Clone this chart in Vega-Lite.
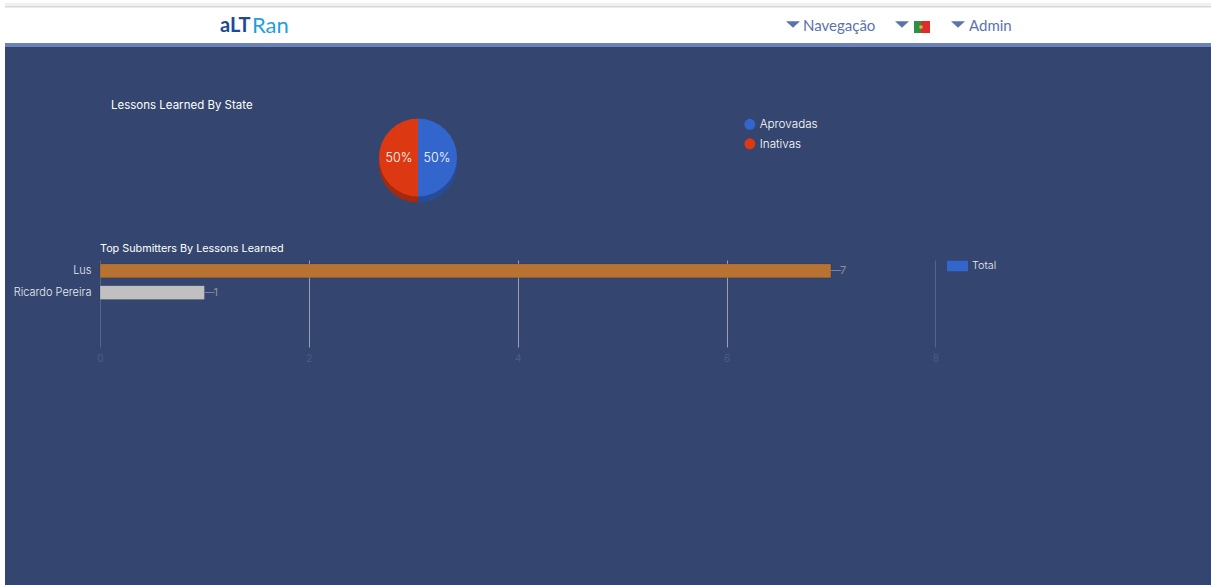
{
"$schema":"https://vega.github.io/schema/vega-lite/v6.json",
"background":"#34466f",
"padding":0,
"spacing":0,
"bounds":"flush",
"resolve":{"scale":{"color":"independent","theta":"independent"}},
"config":{"view":{"stroke":null},"font":"Inter","concat":{"spacing":0}},
"hconcat":[
{"width":5,"height":585,"view":{"fill":"#ffffff","stroke":null},"data":{"values":[{}]},"mark":{"type":"rect","fill":"#ffffff"},"encoding":{}},
{"spacing":0,"bounds":"flush","resolve":{"scale":{"color":"independent","theta":"independent"}},"vconcat":[
{"width":1206,"height":47,"view":{"fill":"#ffffff","stroke":null},"data":{"values":[{}]},
"layer":[
{"mark":{"type":"rect","fill":"#f0f0f0"},"encoding":{"x":{"datum":5,"type":"quantitative","scale":{"domain":[5,1211],"nice":false,"zero":false},"axis":null},"x2":{"datum":1211},"y":{"datum":3,"type":"quantitative","scale":{"domain":[47,0],"nice":false,"zero":false},"axis":null},"y2":{"datum":6}}},
{"mark":{"type":"rect","fill":"#d8d8d8"},"encoding":{"x":{"datum":5,"type":"quantitative"},"x2":{"datum":1211},"y":{"datum":6,"type":"quantitative"},"y2":{"datum":7.5}}},
{"mark":{"type":"rect","fill":"#6b82b8"},"encoding":{"x":{"datum":5,"type":"quantitative"},"x2":{"datum":1211},"y":{"datum":43,"type":"quantitative"},"y2":{"datum":47}}},
{"mark":{"type":"text","text":"aLT","align":"left","font":"Lato","fontWeight":"bold","fontSize":20,"fill":"#1c4a96"},"encoding":{"x":{"datum":220,"type":"quantitative"},"y":{"datum":26,"type":"quantitative"}}},
{"mark":{"type":"text","text":"Ran","align":"left","font":"Lato","fontSize":22,"fill":"#1f9fdc"},"encoding":{"x":{"datum":252,"type":"quantitative"},"y":{"datum":26,"type":"quantitative"}}},
{"mark":{"type":"point","shape":"M-1,-0.45L1,-0.45L0,0.45Z","filled":true,"fill":"#5b73ab","size":196,"opacity":1},"encoding":{"x":{"datum":793,"type":"quantitative"},"y":{"datum":24.5,"type":"quantitative"}}},
{"mark":{"type":"point","shape":"M-1,-0.45L1,-0.45L0,0.45Z","filled":true,"fill":"#5b73ab","size":196,"opacity":1},"encoding":{"x":{"datum":902,"type":"quantitative"},"y":{"datum":24.5,"type":"quantitative"}}},
{"mark":{"type":"point","shape":"M-1,-0.45L1,-0.45L0,0.45Z","filled":true,"fill":"#5b73ab","size":196,"opacity":1},"encoding":{"x":{"datum":958,"type":"quantitative"},"y":{"datum":24.5,"type":"quantitative"}}},
{"mark":{"type":"text","text":"Navegação","align":"left","font":"Lato","fontSize":15,"fill":"#5b73ab"},"encoding":{"x":{"datum":803,"type":"quantitative"},"y":{"datum":26,"type":"quantitative"}}},
{"mark":{"type":"text","text":"Admin","align":"left","font":"Lato","fontSize":15,"fill":"#5b73ab"},"encoding":{"x":{"datum":969,"type":"quantitative"},"y":{"datum":26,"type":"quantitative"}}},
{"mark":{"type":"rect","fill":"#2f8f45"},"encoding":{"x":{"datum":914,"type":"quantitative"},"x2":{"datum":921},"y":{"datum":21,"type":"quantitative"},"y2":{"datum":33}}},
{"mark":{"type":"rect","fill":"#e02b2b"},"encoding":{"x":{"datum":921,"type":"quantitative"},"x2":{"datum":930},"y":{"datum":21,"type":"quantitative"},"y2":{"datum":33}}},
{"mark":{"type":"point","filled":true,"fill":"#d8b03a","size":14,"opacity":1},"encoding":{"x":{"datum":921,"type":"quantitative"},"y":{"datum":27,"type":"quantitative"}}}
]},
{"width":1206,"height":213,
"title":{"text":"Lessons Learned By State","anchor":"start","frame":"group","dx":106,"offset":-64,"color":"#ffffff","font":"Inter","fontSize":11.5,"fontWeight":400},
"data":{"values":[{"state":"Aprovadas","share":50,"label":"50%"},{"state":"Inativas","share":50,"label":"50%"}]},
"encoding":{"x":{"datum":418,"type":"quantitative","scale":{"domain":[5,1211],"nice":false,"zero":false},"axis":null},"theta":{"field":"share","type":"quantitative","stack":true}},
"layer":[
{"mark":{"type":"arc","radius":39},"encoding":{"y":{"datum":163.5,"type":"quantitative","scale":{"domain":[260,47],"nice":false,"zero":false},"axis":null},"color":{"field":"state","type":"nominal","title":null,"scale":{"domain":["Aprovadas","Inativas"],"range":["#3366cc","#dc3912"]},"legend":{"orient":"none","legendX":739,"legendY":71.5,"symbolType":"circle","symbolSize":120,"labelColor":"#ffffff","labelFont":"Inter","labelFontSize":11.7,"labelFontWeight":300,"rowPadding":6.5,"symbolStrokeWidth":0}}}},
{"mark":{"type":"arc","radius":39,"fill":"#000000","opacity":0.25},"encoding":{"y":{"datum":163.5,"type":"quantitative"}}},
{"mark":{"type":"arc","radius":39},"encoding":{"y":{"datum":157.5,"type":"quantitative"},"color":{"field":"state","type":"nominal"}}},
{"mark":{"type":"text","radius":19,"color":"#ffffff","font":"Inter","fontSize":12.5,"fontWeight":300},"encoding":{"y":{"datum":157.5,"type":"quantitative"},"text":{"field":"label"}}}
]},
{"width":1206,"height":87,
"title":{"text":"Top Submitters By Lessons Learned","anchor":"start","frame":"group","dx":95,"offset":2,"color":"#ffffff","font":"Inter","fontSize":10.8,"fontWeight":400},
"data":{"values":[{"name":"Lus","total":7},{"name":"Ricardo Pereira","total":1}]},
"encoding":{
"x":{"field":"total","type":"quantitative","title":null,"scale":{"domain":[-0.91,10.64],"nice":false,"zero":false},"axis":{"values":[0,2,4,6,8],"format":"d","domain":false,"ticks":false,"labelPadding":6,"labelColor":"#4d5d82","labelFont":"Inter","labelFontSize":10,"grid":true,"gridWidth":1,"gridColor":{"condition":{"test":"datum.value==0||datum.value==8","value":"#55658a"},"value":"#98a0b2"}}},
"y":{"field":"name","type":"nominal","title":null,"scale":{"domain":["Lus","Ricardo Pereira","·","··"],"paddingInner":0.36,"paddingOuter":0.18},"axis":{"orient":"left","offset":-95,"values":["Lus","Ricardo Pereira"],"domain":false,"ticks":false,"grid":false,"labelPadding":9,"labelColor":"#e8ebf2","labelFont":"Inter","labelFontSize":11,"labelFontWeight":300}}},
"layer":[
{"mark":{"type":"bar","stroke":"#000000","strokeOpacity":0.12,"strokeWidth":1},"encoding":{"color":{"field":"name","type":"nominal","title":null,"scale":{"domain":["Lus","Ricardo Pereira","Total"],"range":["#b87333","#c0c0c0","#3366cc"]},"legend":{"orient":"none","legendX":942,"legendY":-4.5,"values":["Total"],"symbolType":"M-1,-0.5H1V0.5H-1Z","symbolSize":441,"symbolStrokeWidth":0,"labelColor":"#e8ebf2","labelFont":"Inter","labelFontSize":10.8,"labelFontWeight":300}}}},
{"mark":{"type":"text","text":"—","align":"left","dx":0,"color":"#8792ab","fontSize":10},"encoding":{}},
{"mark":{"type":"text","align":"left","dx":9,"color":"#8f8f9f","fontSize":11},"encoding":{"text":{"field":"total","type":"quantitative"}}}
]}
]}
]}
